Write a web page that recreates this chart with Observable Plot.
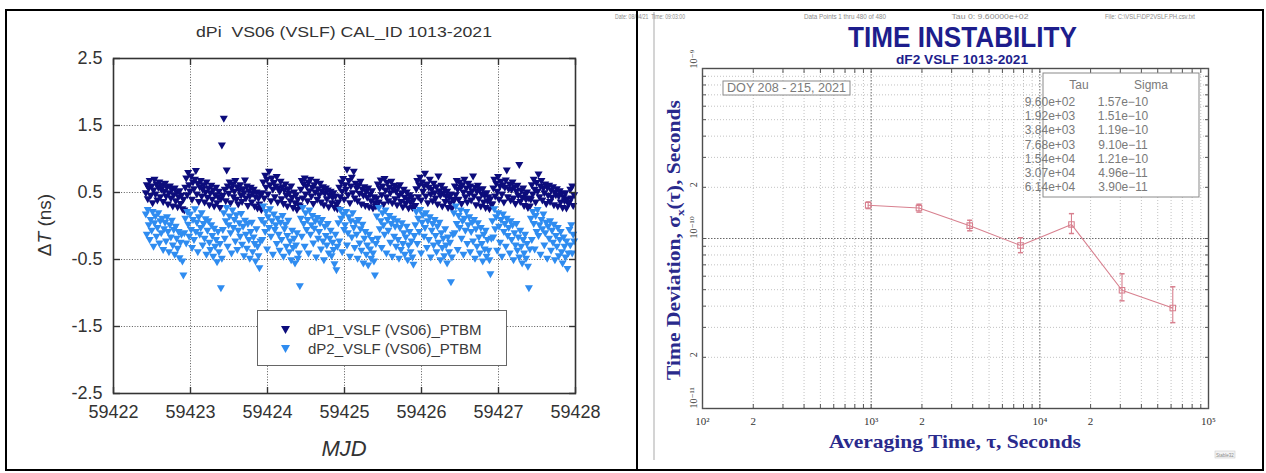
<!DOCTYPE html>
<html>
<head>
<meta charset="utf-8">
<script src="https://cdn.jsdelivr.net/npm/d3@7"></script>
<script src="https://cdn.jsdelivr.net/npm/@observablehq/plot@0.6"></script>
<style>
  html, body { margin: 0; padding: 0; background: #fff; }
  #page { position: relative; width: 1266px; height: 473px; overflow: hidden; background: #fff;
          font-family: "Liberation Sans", Arial, sans-serif; }
  .rule { position: absolute; background: #000; }
  #left, #right { position: absolute; top: 0; }
  #left { left: 0; }
  #right { left: 637px; }
  #legend { position: absolute; left: 257px; top: 310px; width: 250px; height: 56px; box-sizing: border-box;
            border: 1px solid #666; background: #fff; color: #3a3a3a; font-size: 15px; }
  #legend .row { position: absolute; left: 0; height: 18px; line-height: 18px; white-space: nowrap; }
  #legend svg { position: absolute; left: 23px; top: 5px; }
  #legend span { position: absolute; left: 50px; top: 0; }
</style>
</head>
<body>
<div id="page">
  <div id="left"></div>
  <div id="right"></div>
  <div id="legend"></div>
  <div class="rule" style="left:5px;top:9px;width:1259px;height:2px"></div>
  <div class="rule" style="left:5px;top:9px;width:2px;height:462px"></div>
  <div class="rule" style="left:636px;top:9px;width:2px;height:462px"></div>
  <div class="rule" style="left:1262px;top:9px;width:2px;height:462px"></div>
  <div class="rule" style="left:5px;top:469px;width:1259px;height:2px"></div>
</div>
<script>
// ---------- Phase-time differences, VS06 (VSLF), MJD 59422.42 – 59428 ----------
const mjdStart = 59422.42;     // first sample epoch (MJD)
const sampleStep = 0.0125;     // days between samples (18 min)

// dP1_VSLF (VS06)_PTBM, ns — one row per half day
const dP1 = [
  0.50,0.62,0.41,0.57,0.68,0.46,0.60,0.35,0.54,0.70,0.48,0.63,0.39,0.58,0.66,0.44,0.55,0.61,0.37,0.52,
  0.64,0.45,0.58,0.33,0.50,0.60,0.42,0.55,0.30,0.47,0.57,0.38,0.51,0.29,0.44,0.53,0.34,0.46,0.26,0.40,
  0.24,0.58,0.72,0.47,0.80,0.62,0.52,0.75,0.40,0.66,0.56,0.70,0.83,0.48,0.64,0.37,0.59,0.68,0.45,0.55,
  0.62,0.36,0.51,0.66,0.43,0.57,0.32,0.50,0.61,0.40,0.54,0.30,0.47,0.58,0.35,0.44,0.52,0.28,0.41,1.21,
  0.46,1.61,0.55,0.38,0.84,0.60,0.49,0.66,0.35,0.57,0.63,0.44,0.52,0.68,0.40,0.59,0.33,0.54,0.62,0.46,
  0.37,0.56,0.50,0.69,0.42,0.60,0.31,0.53,0.45,0.58,0.36,0.49,0.55,0.30,0.44,0.51,0.27,0.42,0.33,0.48,
  0.25,0.50,0.66,0.42,0.76,0.58,0.70,0.48,0.82,0.62,0.38,0.72,0.55,0.65,0.44,0.60,0.74,0.36,0.57,0.52,
  0.67,0.41,0.59,0.34,0.54,0.63,0.46,0.30,0.56,0.49,0.38,0.60,0.43,0.28,0.51,0.35,0.47,0.25,0.40,0.32,
  0.30,0.55,0.68,0.42,0.63,0.72,0.48,0.60,0.38,0.66,0.53,0.70,0.45,0.58,0.34,0.62,0.51,0.67,0.40,0.56,
  0.47,0.64,0.36,0.52,0.59,0.32,0.49,0.57,0.41,0.54,0.29,0.46,0.52,0.35,0.43,0.50,0.28,0.45,0.33,0.26,
  0.36,0.58,0.44,0.66,0.52,0.71,0.40,0.62,0.55,0.85,0.47,0.68,0.35,0.60,0.73,0.50,0.82,0.42,0.64,0.57,
  0.38,0.61,0.49,0.67,0.33,0.55,0.46,0.59,0.31,0.52,0.43,0.57,0.29,0.48,0.38,0.53,0.27,0.44,0.35,0.30,
  0.42,0.63,0.36,0.57,0.69,0.47,0.60,0.33,0.71,0.54,0.44,0.65,0.38,0.58,0.50,0.67,0.35,0.55,0.61,0.41,
  0.52,0.32,0.58,0.46,0.62,0.37,0.50,0.29,0.55,0.43,0.34,0.51,0.40,0.27,0.47,0.36,0.44,0.28,0.39,0.31,
  0.31,0.56,0.68,0.44,0.62,0.73,0.39,0.66,0.52,0.60,0.79,0.45,0.63,0.35,0.58,0.70,0.48,0.55,0.38,0.64,
  0.50,0.42,0.59,0.33,0.75,0.53,0.46,0.61,0.30,0.49,0.56,0.37,0.45,0.52,0.28,0.43,0.35,0.48,0.27,0.40,
  0.38,0.60,0.47,0.68,0.55,0.40,0.66,0.58,0.34,0.62,0.51,0.70,0.44,0.57,0.36,0.64,0.49,0.60,0.39,0.53,
  0.75,0.45,0.58,0.32,0.52,0.61,0.41,0.55,0.30,0.48,0.56,0.36,0.46,0.28,0.50,0.38,0.44,0.26,0.41,0.33,
  0.33,0.57,0.70,0.45,0.64,0.52,0.74,0.40,0.60,0.67,0.48,0.62,0.36,0.58,0.69,0.84,0.44,0.56,0.63,0.39,
  0.55,0.66,0.42,0.59,0.34,0.52,0.61,0.46,0.92,0.37,0.54,0.43,0.57,0.31,0.48,0.40,0.51,0.28,0.42,0.30,
  0.40,0.62,0.48,0.70,0.55,0.36,0.65,0.52,0.78,0.44,0.60,0.68,0.39,0.57,0.50,0.63,0.34,0.58,0.46,0.61,
  0.37,0.54,0.43,0.59,0.32,0.51,0.47,0.56,0.30,0.45,0.53,0.36,0.49,0.28,0.44,0.38,0.50,0.27,0.41,0.34,
  0.36,0.55,0.42,0.60,0.31,0.47
];

// dP2_VSLF (VS06)_PTBM, ns — one row per half day
const dP2 = [
  0.18,-0.12,0.25,0.02,-0.20,0.10,-0.06,0.22,-0.30,0.05,0.15,-0.15,-0.02,0.20,-0.25,0.08,-0.10,0.12,-0.35,-0.04,
  0.06,-0.22,0.14,-0.08,-0.38,0.02,-0.16,0.09,-0.28,-0.05,-0.42,0.00,-0.18,-0.33,-0.08,-0.47,-0.24,-0.12,-0.52,-0.73,
  -0.10,0.12,-0.25,0.22,0.03,-0.15,0.18,-0.05,-0.32,0.10,-0.20,0.26,-0.08,0.06,-0.38,0.14,-0.12,-0.02,0.20,-0.28,
  0.04,-0.18,0.11,-0.42,-0.06,0.08,-0.24,-0.35,0.02,-0.14,-0.45,-0.03,-0.30,-0.20,-0.53,-0.08,-0.38,-0.26,-0.92,-0.48,
  -0.05,0.20,-0.18,0.08,0.28,-0.30,0.02,0.15,-0.10,-0.40,0.24,-0.02,0.10,-0.22,0.17,-0.35,-0.06,0.05,-0.15,0.19,
  -0.27,0.00,-0.44,0.09,-0.12,-0.33,0.04,-0.20,-0.48,-0.08,0.06,-0.38,-0.16,-0.26,-0.52,-0.04,-0.30,-0.44,-0.62,-0.22,
  0.10,-0.20,0.30,0.05,-0.08,0.22,-0.34,0.14,-0.02,0.26,-0.15,0.08,-0.42,0.18,-0.05,0.02,-0.26,0.12,-0.12,-0.36,
  0.06,-0.20,0.16,-0.45,-0.04,0.03,-0.30,-0.14,0.09,-0.38,-0.22,-0.50,-0.06,-0.32,-0.18,-0.55,-0.28,-0.10,-0.48,-0.40,
  -0.89,0.12,-0.15,0.28,0.04,-0.30,0.20,-0.05,0.10,-0.40,0.24,-0.12,0.02,0.16,-0.25,-0.03,0.08,-0.46,0.13,-0.18,
  -0.08,0.05,-0.34,0.10,-0.22,-0.50,0.00,-0.14,-0.28,0.04,-0.40,-0.18,-0.06,-0.44,-0.24,-0.35,-0.56,-0.12,-0.65,-0.30,
  0.05,-0.22,0.25,0.12,-0.38,0.18,-0.05,0.02,0.22,-0.28,-0.10,0.14,-0.45,0.08,-0.16,0.20,-0.02,-0.32,0.06,-0.12,
  -0.48,0.10,-0.25,-0.04,-0.36,0.03,-0.55,-0.18,-0.08,-0.42,-0.28,-0.58,-0.12,-0.34,-0.48,-0.20,-0.40,-0.52,-0.73,-0.26,
  0.15,-0.18,0.28,-0.04,0.08,-0.32,0.20,0.02,-0.12,0.24,-0.40,0.10,-0.06,0.16,-0.24,0.04,-0.45,0.12,-0.15,0.00,
  -0.30,0.08,-0.20,-0.48,-0.02,-0.35,0.05,-0.26,-0.10,-0.42,-0.16,0.00,-0.50,-0.28,-0.08,-0.38,-0.22,-0.46,-0.57,-0.14,
  0.02,0.22,-0.26,0.12,-0.08,0.25,-0.40,0.06,0.17,-0.15,-0.02,0.20,-0.32,0.08,-0.20,0.14,-0.46,-0.06,0.04,-0.28,
  0.10,-0.14,-0.38,0.00,-0.24,0.06,-0.50,-0.10,-0.32,-0.18,-0.44,-0.04,-0.28,-0.55,-0.16,-0.38,-0.24,-0.83,-0.46,-0.12,
  0.20,-0.10,0.30,0.04,-0.35,0.16,-0.02,0.24,-0.18,0.08,-0.42,0.12,-0.06,0.22,-0.26,0.02,0.14,-0.38,-0.08,0.06,
  -0.22,0.10,-0.48,-0.04,-0.30,0.05,-0.16,-0.40,-0.02,-0.26,-0.52,-0.12,-0.34,-0.06,-0.45,-0.20,-0.36,-0.50,-0.71,-0.18,
  0.08,-0.16,0.26,-0.04,0.14,-0.36,0.20,0.00,-0.24,0.10,-0.45,0.18,-0.08,0.04,-0.30,0.12,-0.14,-0.02,-0.40,0.08,
  -0.20,0.02,-0.50,-0.10,-0.28,0.04,-0.36,-0.16,-0.46,-0.06,-0.30,-0.55,-0.20,-0.40,-0.12,-0.48,-0.26,-0.60,-0.92,-0.34,
  0.12,-0.20,0.22,0.04,-0.34,0.16,-0.08,0.25,-0.14,0.02,-0.42,0.10,-0.04,0.18,-0.28,-0.10,0.06,-0.48,0.00,-0.18,
  0.08,-0.36,-0.06,-0.24,0.03,-0.50,-0.14,-0.30,-0.02,-0.44,-0.20,-0.08,-0.38,-0.55,-0.16,-0.30,-0.46,-0.22,-0.63,-0.40,
  -0.05,-0.28,0.02,-0.40,-0.12,-0.22
];

const seriesNames = ["dP1_VSLF (VS06)_PTBM", "dP2_VSLF (VS06)_PTBM"];
const seriesColors = ["#0c0c7c", "#2f8cf0"];
const mjdTicks = [59422, 59423, 59424, 59425, 59426, 59427, 59428];
const dtTicks = [-2.5, -1.5, -0.5, 0.5, 1.5, 2.5];
const leftTitle = "dPi  VS06 (VSLF) CAL_ID 1013-2021";

// ---------- Time deviation (Stable32 output) ----------
const tau = [960, 1920, 3840, 7680, 15400, 30700, 61400];                        // s
const sigma = [1.57e-10, 1.51e-10, 1.19e-10, 9.10e-11, 1.21e-10, 4.96e-11, 3.90e-11];
const sigmaLow = [1.50e-10, 1.43e-10, 1.11e-10, 8.25e-11, 1.07e-10, 4.30e-11, 3.20e-11];
const sigmaHigh = [1.64e-10, 1.59e-10, 1.28e-10, 1.01e-10, 1.40e-10, 6.20e-11, 5.20e-11];

const tauDecades = [1e2, 1e3, 1e4, 1e5];
const tauMinor = [200,300,400,500,600,700,800,900, 2000,3000,4000,5000,6000,7000,8000,9000,
                  20000,30000,40000,50000,60000,70000,80000,90000];
const sigmaDecades = [1e-11, 1e-10, 1e-9];
const sigmaMinor = [2e-11,3e-11,4e-11,5e-11,6e-11,7e-11,8e-11,9e-11, 2e-10,3e-10,4e-10,5e-10,6e-10,7e-10,8e-10,9e-10];
const tauTickValues = [1e2, 2e2, 1e3, 2e3, 1e4, 2e4, 1e5];
const tauTickLabels = ["10²", "2", "10³", "2", "10⁴", "2", "10⁵"];
const sigmaTickValues = [1e-11, 2e-11, 1e-10, 2e-10, 1e-9];
const sigmaTickLabels = ["10⁻¹¹", "2", "10⁻¹⁰", "2", "10⁻⁹"];

const stabTitle = "TIME INSTABILITY";
const stabSubtitle = "dF2 VSLF 1013-2021";
const stabSpan = "DOY 208 - 215, 2021";
const stabHeader = ["Date: 08/04/21  Time: 09:03:00", "Data Points 1 thru 480 of 480",
                    "Tau 0: 9.60000e+02", "File: C:\\VSLF\\DP2VSLF.PH.csv.txt"];

// ---------- left panel: ΔT scatter ----------
const pts1 = dP1.map((v, i) => ({mjd: mjdStart + i * sampleStep, dt: v}));
const pts2 = dP2.map((v, i) => ({mjd: mjdStart + i * sampleStep, dt: v}));
const gridStyle = {stroke: "#3c3c3c", strokeOpacity: 0.85, strokeDasharray: "1,1.7"};
const blankTicks = {tickFormat: () => "", label: null, stroke: "#333", strokeWidth: 1.4};

const left = Plot.plot({
  width: 637, height: 473,
  marginLeft: 113, marginRight: 62, marginTop: 58, marginBottom: 80,
  x: {domain: [59422, 59428]},
  y: {domain: [-2.5, 2.5]},
  style: {fontFamily: "'Liberation Sans', Arial, sans-serif", color: "#333", background: "transparent", overflow: "visible"},
  marks: [
    Plot.gridX(mjdTicks.slice(1, -1), gridStyle),
    Plot.gridY(dtTicks.slice(1, -1), gridStyle),
    Plot.dot(pts1, {x: "mjd", y: "dt", symbol: "triangle", rotate: 180, r: 3, fill: seriesColors[0]}),
    Plot.dot(pts2, {x: "mjd", y: "dt", symbol: "triangle", rotate: 180, r: 3, fill: seriesColors[1]}),
    Plot.frame({stroke: "#333", strokeWidth: 1.6}),
    Plot.axisX(mjdTicks, {anchor: "top", tickSize: -6, ...blankTicks}),
    Plot.axisX(mjdTicks, {anchor: "bottom", tickSize: -6, ...blankTicks}),
    Plot.axisY(dtTicks, {anchor: "left", tickSize: -7, ...blankTicks}),
    Plot.axisY(dtTicks, {anchor: "right", tickSize: -7, ...blankTicks}),
    Plot.axisX(mjdTicks, {anchor: "bottom", tickSize: 0, tickPadding: 12, fontSize: 18, label: null, tickFormat: d => String(d)}),
    Plot.axisY(dtTicks, {anchor: "left", tickSize: 0, tickPadding: 11, fontSize: 18, label: null, tickFormat: d => d.toFixed(1)})
  ]
});
document.getElementById("left").append(left);

const ls = d3.select(left);
ls.append("text").attr("x", 344).attr("y", 37).attr("text-anchor", "middle")
  .attr("font-size", 15).attr("fill", "#333").attr("textLength", 296).attr("lengthAdjust", "spacingAndGlyphs")
  .style("white-space", "pre").text(leftTitle);
const yl = ls.append("text").attr("transform", "translate(51,225) rotate(-90)").attr("text-anchor", "middle")
  .attr("font-size", 19).attr("fill", "#333");
yl.append("tspan").text("Δ");
yl.append("tspan").attr("font-style", "italic").text("T");
yl.append("tspan").text(" (ns)");
ls.append("text").attr("x", 344).attr("y", 456).attr("text-anchor", "middle")
  .attr("font-size", 22).attr("font-style", "italic").attr("fill", "#333").text("MJD");

// legend box
const legend = d3.select("#legend");
seriesNames.forEach((name, k) => {
  const row = legend.append("div").attr("class", "row").style("top", (10 + k * 19) + "px").style("width", "248px");
  row.append("svg").attr("width", 10).attr("height", 9)
    .append("path").attr("d", "M0,0L9,0L4.5,8Z").attr("fill", seriesColors[k]);
  row.append("span").text(name);
});

// ---------- right panel: time deviation ----------
const pink = "#d8808f";
const stab = tau.map((t, i) => ({tau: t, sigma: sigma[i], lo: sigmaLow[i], hi: sigmaHigh[i]}));
const capSymbol = {draw(ctx, size) { const w = Math.sqrt(size / Math.PI); ctx.moveTo(-w, 0); ctx.lineTo(w, 0); }};
const tauLabel = new Map(tauTickValues.map((v, i) => [v, tauTickLabels[i]]));
const sigmaLabel = new Map(sigmaTickValues.map((v, i) => [v, sigmaTickLabels[i]]));
const minorGrid = {stroke: "#9a9a9a", strokeOpacity: 0.6, strokeDasharray: "1,2"};
const majorGrid = {stroke: "#444", strokeOpacity: 0.8, strokeDasharray: "1.5,1.5"};
const frameTicks = {tickFormat: () => "", label: null, stroke: "#555", strokeWidth: 1};

const right = Plot.plot({
  width: 629, height: 473,
  marginLeft: 65, marginRight: 58, marginTop: 68, marginBottom: 65,
  x: {type: "log", domain: [1e2, 1e5]},
  y: {type: "log", domain: [1e-11, 1e-9]},
  style: {fontFamily: "'Liberation Serif', 'DejaVu Serif', serif", color: "#333", background: "transparent", overflow: "visible"},
  marks: [
    Plot.gridX(tauMinor, minorGrid),
    Plot.gridY(sigmaMinor, minorGrid),
    Plot.gridX(tauDecades.slice(1, -1), majorGrid),
    Plot.gridY(sigmaDecades.slice(1, -1), majorGrid),
    Plot.ruleX(stab, {x: "tau", y1: "lo", y2: "hi", stroke: pink, strokeWidth: 1.1}),
    Plot.dot(stab, {x: "tau", y: "lo", symbol: capSymbol, r: 2.6, stroke: pink, fill: "none"}),
    Plot.dot(stab, {x: "tau", y: "hi", symbol: capSymbol, r: 2.6, stroke: pink, fill: "none"}),
    Plot.line(stab, {x: "tau", y: "sigma", stroke: pink, strokeWidth: 1.1}),
    Plot.dot(stab, {x: "tau", y: "sigma", symbol: "square", r: 3.1, stroke: pink, fill: "none", strokeWidth: 1.1}),
    Plot.frame({stroke: "#4d4d4d", strokeWidth: 1.4}),
    Plot.axisX([...tauDecades, ...tauMinor], {anchor: "top", tickSize: -4, ...frameTicks}),
    Plot.axisX([...tauDecades, ...tauMinor], {anchor: "bottom", tickSize: -4, ...frameTicks}),
    Plot.axisY([...sigmaDecades, ...sigmaMinor], {anchor: "left", tickSize: -4, ...frameTicks}),
    Plot.axisY([...sigmaDecades, ...sigmaMinor], {anchor: "right", tickSize: -4, ...frameTicks}),
    Plot.axisX(tauTickValues, {anchor: "bottom", tickSize: 0, tickPadding: 9, fontSize: 11, label: null,
                               tickFormat: d => tauLabel.get(d)}),
    Plot.text(sigmaTickValues, {y: d => d, text: d => sigmaLabel.get(d), frameAnchor: "left", dx: -9,
                                rotate: -90, fontSize: 10, fill: "#333"})
  ]
});
document.getElementById("right").append(right);

const rs = d3.select(right);
// left edge of the embedded Stable32 page
rs.append("line").attr("x1", 17).attr("x2", 17).attr("y1", 12).attr("y2", 460)
  .attr("stroke", "#b8b8b8").attr("stroke-width", 1.2);
// run header line
[[13, 70], [208, 82], [353, 77], [513, 90]].forEach(([x, w], i) => {
  rs.append("text").attr("x", x).attr("y", 19).attr("font-size", 6.5).attr("fill", "#8a8a8a")
    .attr("font-family", "'Liberation Sans', sans-serif")
    .attr("textLength", w).attr("lengthAdjust", "spacingAndGlyphs").text(stabHeader[i]);
});
rs.append("text").attr("x", 325.5).attr("y", 47).attr("text-anchor", "middle")
  .attr("font-family", "'Liberation Sans Narrow', 'Liberation Sans', Arial, sans-serif").attr("font-size", 30)
  .attr("font-weight", "bold").attr("fill", "#1d1d8c")
  .attr("textLength", 229).attr("lengthAdjust", "spacingAndGlyphs").text(stabTitle);
rs.append("text").attr("x", 325).attr("y", 64).attr("text-anchor", "middle")
  .attr("font-family", "'Liberation Sans', Arial, sans-serif").attr("font-size", 12.5).attr("font-weight", "bold")
  .attr("fill", "#1d1d8c").attr("textLength", 132).attr("lengthAdjust", "spacingAndGlyphs").text(stabSubtitle);
// axis titles
const syl = rs.append("text").attr("transform", "translate(43,240) rotate(-90)").attr("text-anchor", "middle")
  .attr("font-size", 18).attr("font-weight", "bold").attr("fill", "#2a2a8c")
  .attr("textLength", 280).attr("lengthAdjust", "spacingAndGlyphs");
syl.append("tspan").text("Time Deviation, σ");
syl.append("tspan").attr("font-size", 11).attr("dy", 4).text("x");
syl.append("tspan").attr("dy", -4).text("(τ), Seconds");
rs.append("text").attr("x", 318).attr("y", 448).attr("text-anchor", "middle")
  .attr("font-size", 19).attr("font-weight", "bold").attr("fill", "#2a2a8c")
  .attr("textLength", 252).attr("lengthAdjust", "spacingAndGlyphs")
  .text("Averaging Time, τ, Seconds");
// data span box
rs.append("rect").attr("x", 86).attr("y", 81).attr("width", 127).attr("height", 14)
  .attr("fill", "#fff").attr("stroke", "#8a8a8a");
rs.append("text").attr("x", 149.5).attr("y", 92).attr("text-anchor", "middle")
  .attr("font-family", "'Liberation Sans', sans-serif").attr("font-size", 12).attr("fill", "#7a7a7a")
  .attr("textLength", 119).attr("lengthAdjust", "spacingAndGlyphs").text(stabSpan);
// Tau / Sigma table
const fmtExp = v => v.toExponential(2).replace(/e([+-])(\d)$/, "e$10$2").replace("e-", "e−");
rs.append("rect").attr("x", 406).attr("y", 73).attr("width", 156).attr("height", 124)
  .attr("fill", "#fff").attr("stroke", "#8a8a8a");
const tbl = rs.append("g").attr("font-family", "'Liberation Sans', sans-serif").attr("font-size", 12).attr("fill", "#7a7a7a");
tbl.append("text").attr("x", 442).attr("y", 89).attr("text-anchor", "middle").text("Tau");
tbl.append("text").attr("x", 514).attr("y", 89).attr("text-anchor", "middle").text("Sigma");
tau.forEach((t, i) => {
  tbl.append("text").attr("x", 413).attr("y", 106 + i * 14.2).text(fmtExp(t));
  tbl.append("text").attr("x", 486).attr("y", 106 + i * 14.2).text(fmtExp(sigma[i]));
});
// program tag
rs.append("rect").attr("x", 578).attr("y", 451).attr("width", 20).attr("height", 7).attr("fill", "#f4f4f4").attr("stroke", "#ccc").attr("stroke-width", 0.6);
rs.append("text").attr("x", 588).attr("y", 456.5).attr("text-anchor", "middle").attr("font-size", 4.5)
  .attr("fill", "#888").attr("font-family", "'Liberation Sans', sans-serif").text("Stable32");
</script>
</body>
</html>
